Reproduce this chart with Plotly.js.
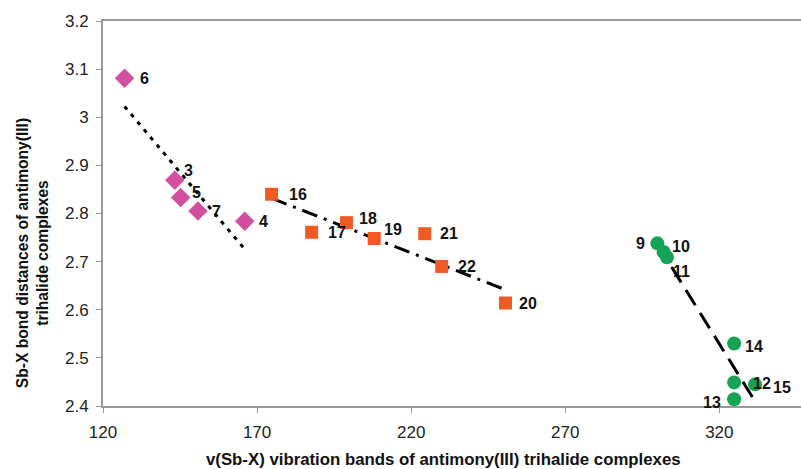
<!DOCTYPE html>
<html><head><meta charset="utf-8">
<script src="https://cdn.plot.ly/plotly-3.0.1.min.js"></script>
<style>html,body{margin:0;padding:0;background:#fff}#c{width:801px;height:469px}</style>
</head><body><div id="c"></div>
<script>
// Pink diamonds (SbX3 series 1)
const pinkLabels = ["6","3","5","7","4"];
const pinkX = [127.0, 143.3, 145.2, 150.8, 166.0];
const pinkY = [3.081, 2.869, 2.833, 2.805, 2.784];
// Orange squares
const orangeLabels = ["16","17","18","19","21","22","20"];
const orangeX = [174.7, 187.7, 199.0, 208.0, 224.4, 229.9, 250.6];
const orangeY = [2.840, 2.761, 2.781, 2.748, 2.758, 2.690, 2.614];
// Green circles
const greenLabels = ["9","10","11","14","12","13","15"];
const greenX = [299.9, 301.9, 303.0, 324.8, 324.8, 324.8, 331.6];
const greenY = [2.738, 2.720, 2.709, 2.530, 2.449, 2.414, 2.445];

const xTicks = [120, 170, 220, 270, 320];
const yTicks = [2.4, 2.5, 2.6, 2.7, 2.8, 2.9, 3, 3.1, 3.2];
const xTitle = 'v(Sb-X) vibration bands of antimony(III) trihalide complexes';
const yTitle = ['Sb-X bond distances of antimony(III)', 'trihalide complexes'];

// label pixel offsets (style, not data)
const pinkShift = [[20,0],[14,10],[16,5],[19,0],[19,0]];
const orangeShift = [[26,0],[25,0],[22,4],[19,9],[24,0],[25,0],[23,0]];
const greenShift = [[-17,0],[17,6],[15,-14],[20,-3],[28,-1],[-22,-3],[27,-3]];

function fit(xs, ys){
  const n = xs.length;
  const mx = xs.reduce((a,b)=>a+b,0)/n, my = ys.reduce((a,b)=>a+b,0)/n;
  let sxy=0, sxx=0;
  for(let i=0;i<n;i++){sxy+=(xs[i]-mx)*(ys[i]-my);sxx+=(xs[i]-mx)*(xs[i]-mx);}
  const m = sxy/sxx, b = my - m*mx;
  const x0 = Math.min(...xs), x1 = Math.max(...xs);
  return {x:[x0,x1], y:[m*x0+b, m*x1+b]};
}
const fp = fit(pinkX,pinkY), fo = fit(orangeX,orangeY), fg = fit(greenX,greenY);

const traces = [
  {x:fp.x,y:fp.y,mode:'lines',line:{color:'#000',width:3,dash:'4px,6px'},hoverinfo:'skip'},
  {x:fo.x,y:fo.y,mode:'lines',line:{color:'#000',width:3,dash:'16px,7px,3px,7px'},hoverinfo:'skip'},
  {x:fg.x,y:fg.y,mode:'lines',line:{color:'#000',width:3,dash:'18px,9px'},hoverinfo:'skip'},
  {x:pinkX,y:pinkY,mode:'markers',marker:{symbol:'diamond',size:15,color:'#D24FA0'}},
  {x:orangeX,y:orangeY,mode:'markers',marker:{symbol:'square',size:13,color:'#F15A22'}},
  {x:greenX,y:greenY,mode:'markers',marker:{symbol:'circle',size:14,color:'#17A356'}},
];

const FONT = 'Liberation Sans, Arial, sans-serif';
const ann = [];
function addLabels(L,X,Y,S){
  for(let i=0;i<L.length;i++){
    ann.push({x:X[i],y:Y[i],xref:'x',yref:'y',text:'<b>'+L[i]+'</b>',showarrow:false,
      xshift:S[i][0],yshift:S[i][1],
      font:{family:FONT,size:16,color:'#111'}});
  }
}
addLabels(pinkLabels,pinkX,pinkY,pinkShift);
addLabels(orangeLabels,orangeX,orangeY,orangeShift);
addLabels(greenLabels,greenX,greenY,greenShift);

// axis titles placed as annotations to match the reference offsets
ann.push({xref:'paper',yref:'paper',x:0.488,y:0,xanchor:'center',yanchor:'middle',yshift:-53,
  showarrow:false,text:'<b>'+xTitle+'</b>',font:{family:FONT,size:16.8,color:'#111'}});
ann.push({xref:'paper',yref:'paper',x:0,y:0.397,xanchor:'center',yanchor:'middle',xshift:-71,
  textangle:-90,showarrow:false,text:'<b>'+yTitle.join('<br>')+'</b>',
  font:{family:FONT,size:15.6,color:'#111'}});

const layout = {
  width:801,height:469,
  margin:{l:103,r:0,t:21,b:63},
  paper_bgcolor:'#fff',plot_bgcolor:'#fff',
  showlegend:false,
  font:{family:FONT,color:'#222'},
  xaxis:{range:[120,346.5],tickvals:xTicks,showgrid:false,zeroline:false,
    showline:true,linecolor:'#9a9a9a',linewidth:2,mirror:true,ticks:'outside',ticklen:5,tickcolor:'#9a9a9a',
    ticklabelstandoff:5,tickfont:{size:17,color:'#222'}},
  yaxis:{range:[2.4,3.2],tickvals:yTicks,showgrid:false,zeroline:false,
    showline:true,linecolor:'#9a9a9a',linewidth:2,ticks:'outside',ticklen:5,tickcolor:'#9a9a9a',
    ticklabelstandoff:4,tickfont:{size:17,color:'#222'}},
  annotations:ann
};
Plotly.newPlot('c',traces,layout,{displayModeBar:false,staticPlot:true});
</script></body></html>
